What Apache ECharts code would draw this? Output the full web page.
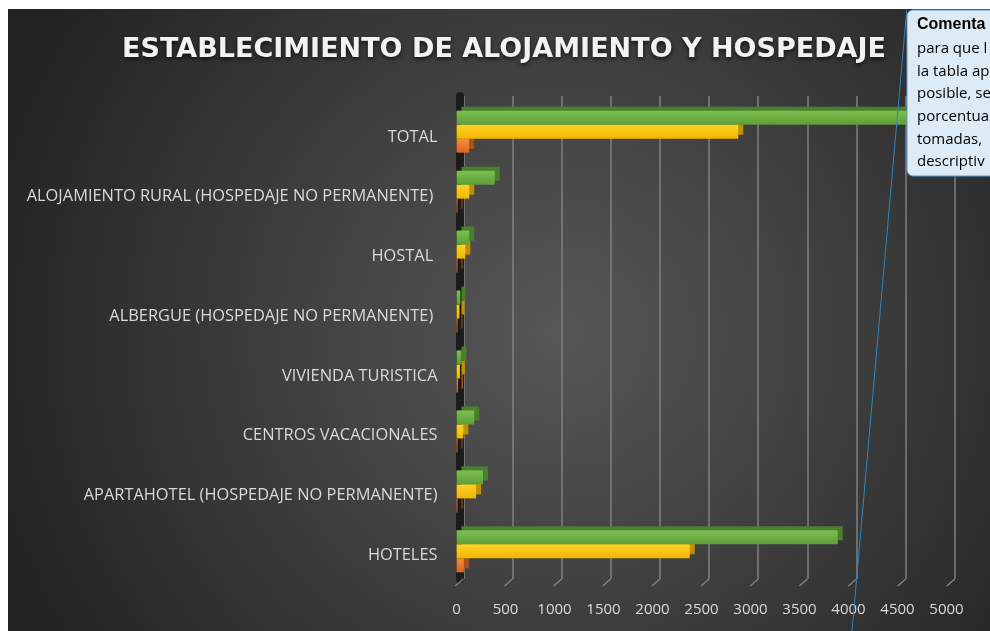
<!DOCTYPE html>
<html>
<head>
<meta charset="utf-8">
<script src="https://cdn.jsdelivr.net/npm/echarts@6/dist/echarts.min.js"></script>
<style>
  html, body { margin: 0; padding: 0; background: #fff; }
  #chart { position: absolute; left: 8px; top: 9px; width: 982px; height: 622px; }
</style>
</head>
<body>
<div id="chart"></div>
<script>
// categories bottom -> top, as drawn on the y axis
const categories = [
  'HOTELES',
  'APARTAHOTEL (HOSPEDAJE NO PERMANENTE)',
  'CENTROS VACACIONALES',
  'VIVIENDA TURISTICA',
  'ALBERGUE (HOSPEDAJE NO PERMANENTE) ',
  'HOSTAL ',
  'ALOJAMIENTO RURAL (HOSPEDAJE NO PERMANENTE) ',
  'TOTAL'
];
const serieNaranja = [75, 10, 10, 15, 10, 10, 10, 130];
const serieAmarilla = [2380, 200, 70, 35, 30, 90, 130, 2875];
const serieVerde = [3890, 270, 180, 50, 40, 130, 390, 4950];
const xTicks = [0, 500, 1000, 1500, 2000, 2500, 3000, 3500, 4000, 4500, 5000];
const commentLines = ['Comenta', 'para que l', 'la tabla ap', 'posible, se', 'porcentua', 'tomadas,', 'descriptiv'];

const chart = echarts.init(document.getElementById('chart'));

// z: orange under yellow under green, so the fake 3D top face of each bar hides under the one above
const barSerie = (name, data, top, bottom, side, z) => ({
  name,
  type: 'bar',
  xAxisIndex: 1,
  yAxisIndex: 1,
  z,
  data,
  barWidth: 14,
  barGap: '0%',
  itemStyle: {
    color: { type: 'linear', x: 0, y: 0, x2: 0, y2: 1, colorStops: [{ offset: 0, color: top }, { offset: 1, color: bottom }] },
    shadowColor: side,
    shadowBlur: 0,
    shadowOffsetX: 5,
    shadowOffsetY: -4
  },
  silent: true
});

const commentText = commentLines.map((line, i) => ({
  type: 'text',
  x: 909,
  y: i === 0 ? 16 : 40 + (i - 1) * 22.6,
  z: 102,
  style: {
    text: line,
    fill: '#000',
    font: i === 0 ? 'bold 16px "Liberation Sans"' : '15px "Open Sans"',
    verticalAlign: 'middle'
  }
}));

const hidden = { axisLabel: { show: false }, axisLine: { show: false }, axisTick: { show: false }, splitLine: { show: false } };

chart.setOption({
  animation: false,
  backgroundColor: {
    type: 'radial', x: 0.56, y: 0.52, r: 0.95,
    colorStops: [{ offset: 0, color: '#575757' }, { offset: 1, color: '#232323' }]
  },
  title: {
    text: 'ESTABLECIMIENTO DE ALOJAMIENTO Y HOSPEDAJE',
    left: 491,
    top: 36,
    textAlign: 'center',
    textVerticalAlign: 'middle',
    textStyle: {
      fontFamily: 'DejaVu Sans',
      fontWeight: 'bold',
      fontSize: 27,
      color: '#f2f2f2',
      textShadowColor: 'rgba(0,0,0,0.7)',
      textShadowBlur: 4,
      textShadowOffsetY: 2
    }
  },
  grid: [
    { left: 455.3, right: 35.2, top: 87, bottom: 52 }, // back wall: gridlines
    { left: 448.5, right: 43.5, top: 92.7, bottom: 49.7 }, // bars
    { left: 448.5, right: 43.5, top: 98.1, bottom: 46.1 } // category labels
  ],
  xAxis: [
    {
      gridIndex: 0, type: 'value', min: 0, max: 5000, interval: 500,
      axisLabel: { show: false }, axisLine: { show: false }, axisTick: { show: false },
      splitLine: { show: true, lineStyle: { color: '#808080', width: 1.5 } }
    },
    {
      gridIndex: 1, type: 'value', min: 0, max: 5000, interval: 500,
      axisLine: { show: false }, axisTick: { show: false }, splitLine: { show: false },
      axisLabel: { color: '#d9d9d9', fontSize: 15, fontFamily: 'Open Sans', margin: 21, formatter: (v) => String(v) }
    },
    { gridIndex: 2, type: 'value', min: 0, max: 5000, ...hidden }
  ],
  yAxis: [
    {
      gridIndex: 0, type: 'value', min: 0, max: 1, offset: 4,
      axisLabel: { show: false }, axisTick: { show: false }, splitLine: { show: false },
      axisLine: { show: true, onZero: false, lineStyle: { color: '#1c1c1c', width: 8 } }
    },
    { gridIndex: 1, type: 'category', data: categories, ...hidden },
    {
      gridIndex: 2, type: 'category', data: categories,
      axisLine: { show: false }, axisTick: { show: false }, splitLine: { show: false },
      axisLabel: { color: '#d9d9d9', fontSize: 16.4, fontFamily: 'Open Sans', margin: 19 }
    }
  ],
  series: [
    {
      type: 'custom',
      xAxisIndex: 0,
      yAxisIndex: 0,
      data: xTicks,
      silent: true,
      renderItem: (params, api) => {
        const p = api.coord([api.value(0), 0]);
        return {
          type: 'line',
          shape: { x1: p[0], y1: p[1], x2: p[0] - 8, y2: p[1] + 7 },
          style: { stroke: '#808080', lineWidth: 1.5 }
        };
      }
    },
    barSerie('Serie 3', serieVerde, '#7cc050', '#5f9e38', '#4a7f2b', 4),
    barSerie('Serie 2', serieAmarilla, '#ffd12a', '#f2b600', '#c39100', 3),
    barSerie('Serie 1', serieNaranja, '#f68d3f', '#dc661f', '#a9501a', 2)
  ],
  graphic: [
    {
      type: 'line', z: 100,
      shape: { x1: 898.7, y1: 1, x2: 844, y2: 622 },
      style: { stroke: '#2e86c1', lineWidth: 1 }
    },
    {
      type: 'rect', z: 101,
      shape: { x: 899, y: 1, width: 110, height: 166, r: 6 },
      style: { fill: '#ddebf7', stroke: '#5b9bd5', lineWidth: 1 }
    },
    ...commentText
  ]
});
</script>
</body>
</html>
